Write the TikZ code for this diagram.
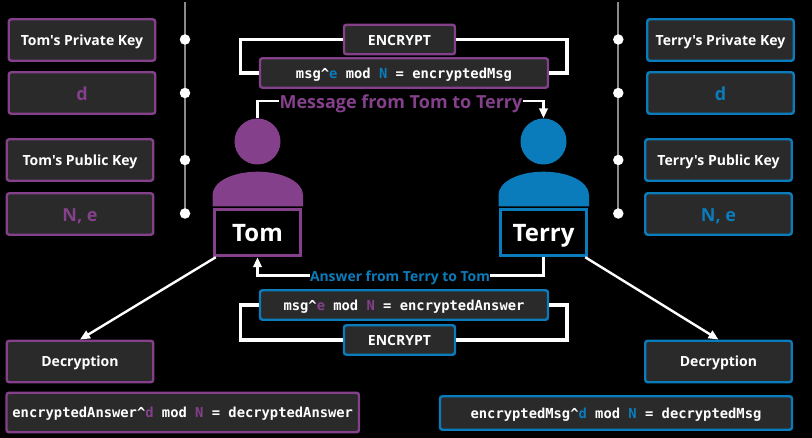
\documentclass[tikz,border=0pt]{standalone}
\usepackage{fontspec}
\setmainfont{Open Sans}[Ligatures=TeXOff]
\setmonofont{DejaVu Sans Mono}
\usetikzlibrary{arrows.meta,calc}
\definecolor{tompurple}{HTML}{84408A}
\definecolor{terryblue}{HTML}{0A7BBB}
\definecolor{boxfill}{HTML}{2A2A2A}
\definecolor{railgray}{HTML}{8A8A8A}
\newcommand{\keytext}{\fontsize{14}{16}\selectfont\bfseries}
\newcommand{\valtext}{\fontsize{18}{20}\selectfont\bfseries}
\newcommand{\eqtext}{\fontsize{13.8}{16}\selectfont\ttfamily\bfseries}
\newcommand{\pu}[1]{\textcolor{tompurple}{#1}}
\newcommand{\bl}[1]{\textcolor{terryblue}{#1}}
\newcommand{\caret}{\char94\relax}
\tikzset{
  x=1pt,y=-1pt,
  card/.style={draw,fill=boxfill,line width=2.4pt,rounded corners=2.5pt,inner sep=0pt,text=white,align=center,minimum width=#1},
  card/.default=146.5pt,
  tomcard/.style={card=#1,draw=tompurple},
  tomcard/.default=146.5pt,
  terrycard/.style={card=#1,draw=terryblue},
  terrycard/.default=146.5pt,
  keyh/.style={minimum height=41.5pt,font=\keytext,text height=11pt,text depth=0pt},
  valh/.style={minimum height=41.5pt,font=\valtext,text height=15pt,text depth=0pt},
  eqh/.style={minimum height=29.5pt,font=\eqtext,text height=10.5pt,text depth=0pt},
  enc/.style={minimum width=111pt,minimum height=29.5pt,font=\keytext,text height=11.5pt,text depth=0pt},
  namebox/.style={draw,line width=3pt,fill=black,text=white,inner sep=0pt,minimum width=86.5pt,minimum height=46.5pt,text height=18.5pt,text depth=0pt,font=\fontsize{24}{28}\selectfont\bfseries},
  head/.style={circle,inner sep=0pt,minimum size=46pt},
  rail/.style={draw=railgray,line width=2pt},
  railstop/.style={circle,fill=white,inner sep=0pt,minimum size=10.5pt},
  loopline/.style={draw=white,line width=3.4pt},
  link/.style={draw=white,line width=2.4pt},
  arrowlink/.style={link,-{Triangle[length=10pt,width=8.5pt]}},
  flowlabel/.style={inner sep=0pt,text depth=0pt},
}
\begin{document}
\begin{tikzpicture}
\useasboundingbox[fill=black] (0,0) rectangle (812,438);

% left key column
\node[tomcard,keyh] (tpriv) at (82,40) {Tom's Private Key};
\node[tomcard,valh,text=tompurple] (tprivv) at (82,93) {d};
\node[tomcard,keyh] (tpub) at (80,160) {Tom's Public Key};
\node[tomcard,valh,text=tompurple] (tpubv) at (80,214) {N, e};

% right key column
\node[terrycard,keyh] (rpriv) at (720.5,40) {Terry's Private Key};
\node[terrycard,valh,text=terryblue] (rprivv) at (720.5,93) {d};
\node[terrycard,keyh] (rpub) at (718.5,160) {Terry's Public Key};
\node[terrycard,valh,text=terryblue] (rpubv) at (718.5,214) {N, e};

% rails
\coordinate (ltop) at (185,2);
\coordinate (lend) at (185,213.5);
\coordinate (rtop) at (618.3,2);
\coordinate (rend) at (618.3,213.5);
\path[rail] (ltop) -- (lend);
\path[rail] (rtop) -- (rend);
\node[railstop] (l1) at (185,39.5) {};
\node[railstop] (l2) at (185,93) {};
\node[railstop] (l3) at (185,160) {};
\node[railstop] (l4) at (lend) {};
\node[railstop] (r1) at (618.3,39.5) {};
\node[railstop] (r2) at (618.3,93) {};
\node[railstop] (r3) at (618.3,160) {};
\node[railstop] (r4) at (rend) {};

% people
\node[head,fill=tompurple] (thead) at (257.5,141.5) {};
\fill[tompurple] (212.5,206.5) -- (212.5,195) .. controls (212.5,181.7) and (232.7,171.7) .. (257.5,171.7) .. controls (282.3,171.7) and (303,181.7) .. (303,195) -- (303,206.5) -- cycle;
\node[namebox,draw=tompurple] (tom) at (257.5,232.5) {Tom};

\node[head,fill=terryblue] (rhead) at (543.5,141.5) {};
\fill[terryblue] (498.5,206.5) -- (498.5,195) .. controls (498.5,181.7) and (518.7,171.7) .. (543.5,171.7) .. controls (568.3,171.7) and (589,181.7) .. (589,195) -- (589,206.5) -- cycle;
\node[namebox,draw=terryblue] (terry) at (543.5,232.5) {Terry};

% top encryption
\node[tomcard,enc] (enc1) at (399.5,39.5) {ENCRYPT};
\node[tomcard=288pt,eqh] (eq1) at (404,73) {msg\caret\bl{e} mod \bl{N} = encryptedMsg};
\coordinate (e1l) at (240.5,39.5);
\coordinate (e1r) at (567,39.5);
\path[loopline] (enc1.west) -- (e1l) |- (eq1.west);
\path[loopline] (enc1.east) -- (e1r) |- (eq1.east);

% message label
\node[flowlabel,text=tompurple,text height=16pt,font=\fontsize{18}{20}\selectfont\bfseries] (mlabel) at (401,101) {Message from Tom to Terry};
\path[link] (thead.north) |- (mlabel.west);
\coordinate (mturn) at (rhead.north |- mlabel.east);
\path[arrowlink] (mlabel.east) -- (mturn) -- (rhead.north);

% bottom encryption
\node[terrycard=288pt,eqh] (eq2) at (404,305) {msg\caret\pu{e} mod \pu{N} = encryptedAnswer};
\node[terrycard,enc] (enc2) at (399.5,340) {ENCRYPT};
\coordinate (e2l) at (240.5,340);
\coordinate (e2r) at (567,340);
\path[loopline] (enc2.west) -- (e2l) |- (eq2.west);
\path[loopline] (enc2.east) -- (e2r) |- (eq2.east);

% answer label
\node[flowlabel,text=terryblue,text height=12pt,font=\fontsize{13.9}{16}\selectfont\bfseries] (alabel) at (400,275.5) {Answer from Terry to Tom};
\path[link] (terry.south) |- (alabel.east);
\coordinate (aturn) at (tom.south |- alabel.west);
\path[arrowlink] (alabel.west) -- (aturn) -- (tom.south);

% decryption
\node[tomcard,keyh] (tdec) at (80,361.5) {Decryption};
\node[tomcard=352.5pt,minimum height=39.5pt,font=\eqtext,text height=10.5pt,text depth=0pt] (teq) at (182.75,412.5) {encryptedAnswer\caret\pu{d} mod \pu{N} = decryptedAnswer};
\node[terrycard,keyh] (rdec) at (718.5,361.5) {Decryption};
\node[terrycard=352pt,minimum height=33.5pt,font=\eqtext,text height=10.5pt,text depth=0pt] (req) at (616,413) {encryptedMsg\caret\bl{d} mod \bl{N} = decryptedMsg};

\coordinate (tfrom) at ($(tom.south west)+(3,0)$);
\coordinate (rfrom) at ($(terry.south east)+(-3,0)$);
\path[arrowlink] (tfrom) -- (tdec.north);
\path[arrowlink] (rfrom) -- (rdec.north);
\end{tikzpicture}
\end{document}
